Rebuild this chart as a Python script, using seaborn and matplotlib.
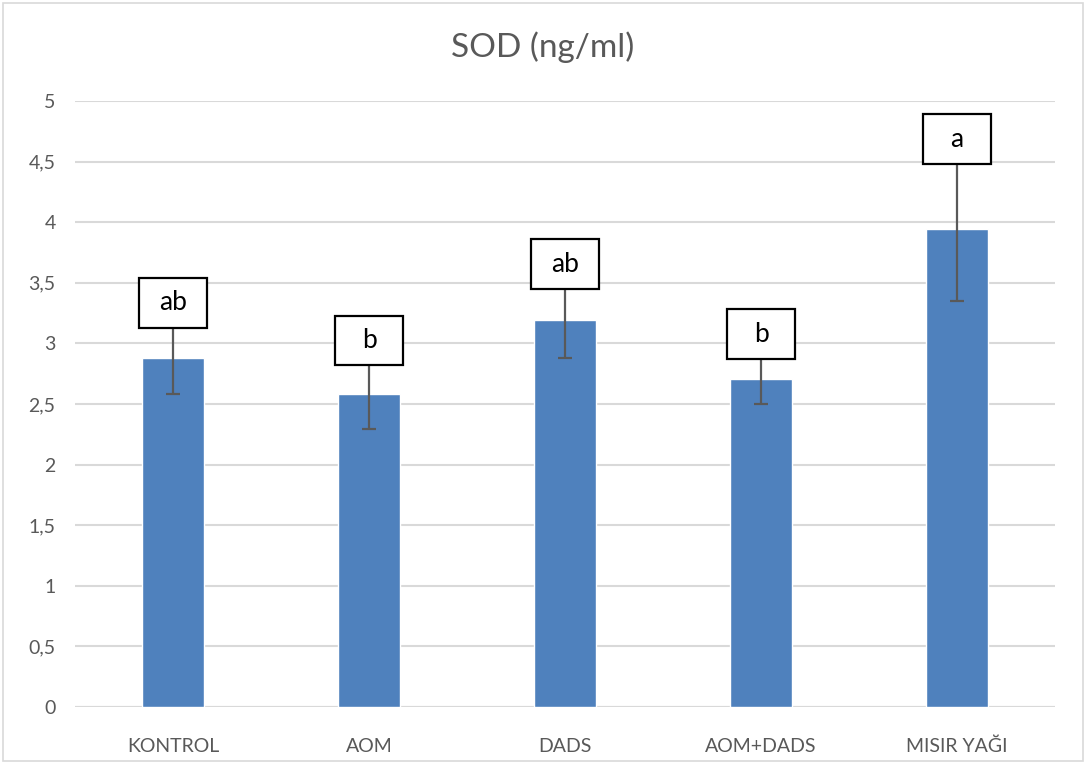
import matplotlib
matplotlib.use("Agg")
import matplotlib.pyplot as plt
from matplotlib.patches import Rectangle
import seaborn as sns
import pandas as pd

groups = ["KONTROL", "AOM", "DADS", "AOM+DADS", "MISIR YAĞI"]
sod_mean = [2.88, 2.58, 3.19, 2.71, 3.94]
sod_err = [0.30, 0.29, 0.31, 0.21, 0.59]
letters = ["ab", "b", "ab", "b", "a"]
y_ticks = [0, 0.5, 1, 1.5, 2, 2.5, 3, 3.5, 4, 4.5, 5]
y_tick_labels = ["0", "0,5", "1", "1,5", "2", "2,5", "3", "3,5", "4", "4,5", "5"]

df = pd.DataFrame({"group": groups, "sod": sod_mean})

sns.set_theme(style="white")
plt.rcParams["font.family"] = ["Lato", "DejaVu Sans"]

W, H = 1086, 764
fig = plt.figure(figsize=(W / 100, H / 100), dpi=100)
ax = fig.add_axes([75 / W, (H - 707) / H, 980 / W, 606 / H])

grid_c = "#d9d9d9"
text_c = "#595959"
bar_c = "#4f81bd"

sns.barplot(data=df, x="group", y="sod", color=bar_c, width=0.315,
            saturation=1, errorbar=None, ax=ax, zorder=3)
ax.errorbar(range(len(groups)), sod_mean, yerr=sod_err, fmt="none",
            ecolor=text_c, elinewidth=1.6, capsize=5, capthick=1.6, zorder=4)

# significance letters in framed boxes above each error bar
box_w, box_h = 0.35, 0.41
for i, (m, e, lt) in enumerate(zip(sod_mean, sod_err, letters)):
    y0 = m + e - 0.05
    ax.add_patch(Rectangle((i - box_w / 2, y0), box_w, box_h, facecolor="white",
                           edgecolor="black", linewidth=1.6, zorder=5))
    ax.text(i, y0 + box_h / 2, lt, ha="center", va="center", fontsize=19,
            color="black", zorder=6)

ax.set_xlim(-0.5, len(groups) - 0.5)
ax.set_ylim(0, 5)
ax.set_yticks(y_ticks)
ax.set_yticklabels(y_tick_labels)
ax.yaxis.grid(True, color=grid_c, linewidth=1.5, zorder=0)
ax.set_axisbelow(True)
for s in ax.spines.values():
    s.set_visible(False)
ax.axhline(0, color=grid_c, linewidth=1.5, zorder=2)
ax.tick_params(axis="both", length=0, labelsize=14, colors=text_c)
ax.tick_params(axis="x", pad=22)
ax.tick_params(axis="y", pad=14)
ax.set_xlabel("")
ax.set_ylabel("")

fig.text(0.5, (H - 47) / H, "SOD (ng/ml)", ha="center", va="center",
         fontsize=24, color=text_c)

fig.patches.append(Rectangle((3 / W, 3 / H), (W - 6) / W, (H - 6) / H,
                             transform=fig.transFigure, fill=False,
                             edgecolor=grid_c, linewidth=1.2))

fig.savefig("out.png", dpi=100)
